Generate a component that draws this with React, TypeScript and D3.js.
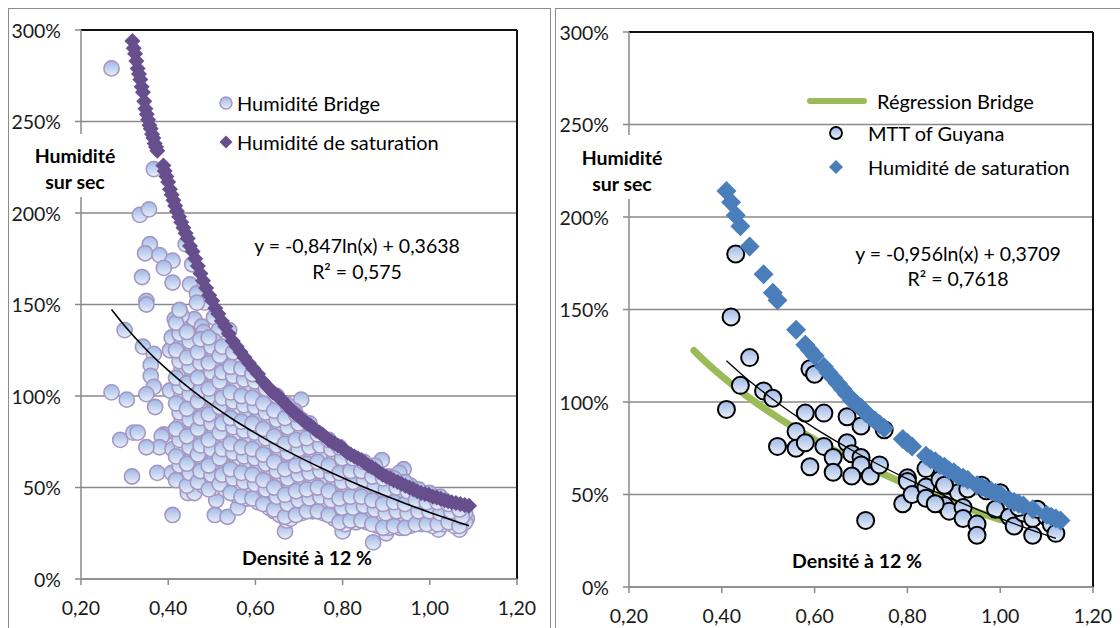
import React from "react";
import * as d3 from "d3";

// ---------- DATA ----------
const xTicks = [0.2, 0.4, 0.6, 0.8, 1.0, 1.2];
const yTicks = [0, 0.5, 1, 1.5, 2, 2.5, 3];

// Left panel : Humidité Bridge (density, humidity %)
const bridgeOutliers: [number, number][] = [
  [0.27, 279], [0.367, 224], [0.335, 199], [0.356, 202], [0.358, 183], [0.347, 178], [0.38, 177], [0.41, 174],
  [0.39, 170], [0.34, 165], [0.41, 162], [0.35, 152], [0.35, 150], [0.44, 183], [0.455, 172], [0.45, 161],
  [0.466, 156], [0.484, 151], [0.466, 151], [0.415, 142], [0.44, 139], [0.46, 142], [0.477, 138], [0.505, 143],
  [0.516, 136], [0.54, 136], [0.30, 136], [0.342, 127], [0.367, 123], [0.36, 117], [0.36, 111], [0.367, 105],
  [0.35, 101], [0.404, 103], [0.404, 125], [0.408, 132], [0.37, 94], [0.27, 102], [0.305, 98], [0.39, 79],
  [0.385, 78], [0.38, 72], [0.35, 72], [0.29, 76], [0.32, 80], [0.33, 80], [0.41, 71], [0.375, 58],
  [0.408, 58], [0.317, 56], [0.41, 35], [0.445, 47], [0.46, 47], [0.474, 56], [0.51, 43], [0.507, 35],
  [0.536, 34], [0.56, 39], [0.606, 54], [0.643, 37], [0.668, 26], [0.672, 32], [0.697, 39], [0.726, 43],
  [0.77, 45], [0.78, 38], [0.80, 26], [0.816, 31], [0.86, 38], [0.87, 20], [0.90, 25], [0.92, 30],
  [0.936, 28], [0.96, 34], [0.977, 35], [1.00, 32], [1.02, 27], [1.047, 33], [1.068, 27], [1.085, 33],
  [1.056, 40], [1.02, 37], [1.03, 40], [0.705, 98], [0.69, 92], [0.89, 65], [0.94, 60], [0.93, 58],
];
const bridgeBody: [number, number][] = [
  [0.418, 54], [0.426, 62], [0.418, 67], [0.426, 76], [0.418, 82], [0.426, 91], [0.418, 96], [0.426, 105], [0.418, 110], [0.426, 119], [0.418, 125], [0.426, 134], [0.418, 140], [0.426, 147],
  [0.443, 51], [0.449, 58], [0.443, 63], [0.449, 72], [0.443, 78], [0.449, 87], [0.443, 93], [0.449, 101], [0.443, 107], [0.449, 116], [0.443, 121], [0.449, 130], [0.443, 135],
  [0.468, 53], [0.474, 59], [0.468, 68], [0.474, 73], [0.468, 82], [0.474, 88], [0.468, 97], [0.474, 103], [0.468, 110], [0.474, 118], [0.468, 124], [0.474, 131],
  [0.493, 49], [0.499, 57], [0.493, 62], [0.499, 71], [0.493, 76], [0.499, 85], [0.493, 90], [0.499, 99], [0.493, 104], [0.499, 113], [0.493, 118], [0.499, 127], [0.493, 132],
  [0.518, 52], [0.524, 57], [0.518, 66], [0.524, 71], [0.518, 80], [0.524, 85], [0.518, 94], [0.524, 99], [0.518, 108], [0.524, 113], [0.518, 122], [0.524, 127],
  [0.543, 47], [0.549, 55], [0.543, 60], [0.549, 69], [0.543, 74], [0.549, 83], [0.543, 88], [0.549, 97], [0.543, 102], [0.549, 111], [0.543, 116], [0.549, 124],
  [0.568, 45], [0.574, 53], [0.568, 58], [0.574, 67], [0.568, 72], [0.574, 81], [0.568, 86], [0.574, 95], [0.568, 100], [0.574, 109], [0.568, 115],
  [0.593, 44], [0.599, 52], [0.593, 57], [0.599, 66], [0.593, 71], [0.599, 80], [0.593, 85], [0.599, 94], [0.593, 99], [0.599, 108], [0.593, 112],
  [0.618, 41], [0.624, 49], [0.618, 54], [0.624, 63], [0.618, 68], [0.624, 77], [0.618, 82], [0.624, 91], [0.618, 96], [0.624, 104],
  [0.643, 38], [0.649, 45], [0.643, 50], [0.649, 59], [0.643, 64], [0.649, 73], [0.643, 78], [0.649, 87], [0.643, 92], [0.649, 100],
  [0.668, 34], [0.674, 41], [0.668, 46], [0.674, 55], [0.668, 60], [0.674, 69], [0.668, 74], [0.674, 83], [0.668, 88], [0.674, 95],
  [0.693, 35], [0.699, 43], [0.693, 48], [0.699, 57], [0.693, 62], [0.699, 71], [0.693, 76], [0.699, 85], [0.693, 90],
  [0.718, 37], [0.724, 44], [0.718, 49], [0.724, 58], [0.718, 63], [0.724, 72], [0.718, 77], [0.724, 85],
  [0.743, 37], [0.749, 45], [0.743, 50], [0.749, 59], [0.743, 64], [0.749, 73], [0.743, 79],
  [0.768, 35], [0.774, 43], [0.768, 48], [0.774, 57], [0.768, 62], [0.774, 71], [0.768, 76],
  [0.793, 31], [0.799, 39], [0.793, 44], [0.799, 53], [0.793, 58], [0.799, 66], [0.793, 72],
  [0.818, 32], [0.824, 39], [0.818, 45], [0.824, 53], [0.818, 59], [0.824, 66],
  [0.843, 32], [0.849, 40], [0.843, 45], [0.849, 54], [0.843, 59], [0.849, 64],
  [0.868, 30], [0.874, 38], [0.868, 43], [0.874, 51], [0.868, 56], [0.874, 62],
  [0.893, 28], [0.899, 36], [0.893, 41], [0.899, 49], [0.893, 55],
  [0.918, 29], [0.924, 37], [0.918, 42], [0.924, 50], [0.918, 55],
  [0.943, 28], [0.949, 36], [0.943, 41], [0.949, 48], [0.943, 53],
  [0.968, 30], [0.974, 37], [0.968, 43], [0.974, 49],
  [0.993, 30], [0.999, 37], [0.993, 42], [0.999, 47],
  [1.018, 30], [1.024, 36], [1.018, 42], [1.024, 45],
  [1.043, 31], [1.049, 37], [1.043, 41],
  [1.068, 29], [1.074, 34], [1.068, 38],
];
const bridgeFill: [number, number][] = [
  [0.431, 57], [0.431, 65], [0.431, 72], [0.431, 80], [0.431, 87], [0.431, 94], [0.431, 101], [0.431, 108], [0.431, 115], [0.431, 122], [0.431, 129], [0.431, 137], [0.431, 144],
  [0.456, 54], [0.456, 61], [0.456, 68], [0.456, 76], [0.456, 83], [0.456, 90], [0.456, 97], [0.456, 104], [0.456, 112], [0.456, 119], [0.456, 126], [0.456, 133],
  [0.481, 51], [0.481, 56], [0.481, 64], [0.481, 71], [0.481, 78], [0.481, 85], [0.481, 93], [0.481, 100], [0.481, 107], [0.481, 114], [0.481, 121], [0.481, 128], [0.481, 135],
  [0.506, 50], [0.506, 54], [0.506, 61], [0.506, 68], [0.506, 75], [0.506, 82], [0.506, 89], [0.506, 96], [0.506, 102], [0.506, 110], [0.506, 117], [0.506, 124], [0.506, 130],
  [0.531, 49], [0.531, 56], [0.531, 63], [0.531, 70], [0.531, 77], [0.531, 84], [0.531, 91], [0.531, 98], [0.531, 105], [0.531, 112], [0.531, 119], [0.531, 125],
  [0.556, 46], [0.556, 52], [0.556, 59], [0.556, 66], [0.556, 73], [0.556, 80], [0.556, 87], [0.556, 94], [0.556, 101], [0.556, 108], [0.556, 115], [0.556, 121],
  [0.581, 44], [0.581, 51], [0.581, 55], [0.581, 62], [0.581, 69], [0.581, 76], [0.581, 83], [0.581, 90], [0.581, 97], [0.581, 104], [0.581, 111],
  [0.606, 42], [0.606, 47], [0.606, 61], [0.606, 68], [0.606, 75], [0.606, 82], [0.606, 89], [0.606, 96], [0.606, 103], [0.606, 108],
  [0.631, 39], [0.631, 45], [0.631, 52], [0.631, 59], [0.631, 66], [0.631, 73], [0.631, 80], [0.631, 87], [0.631, 94], [0.631, 101],
  [0.656, 35], [0.656, 42], [0.656, 48], [0.656, 56], [0.656, 62], [0.656, 70], [0.656, 76], [0.656, 84], [0.656, 90], [0.656, 96],
  [0.681, 33], [0.681, 39], [0.681, 45], [0.681, 52], [0.681, 58], [0.681, 66], [0.681, 72], [0.681, 80], [0.681, 86], [0.681, 92],
  [0.706, 36], [0.706, 40], [0.706, 47], [0.706, 53], [0.706, 60], [0.706, 67], [0.706, 74], [0.706, 81], [0.706, 87],
  [0.731, 37], [0.731, 41], [0.731, 47], [0.731, 54], [0.731, 61], [0.731, 68], [0.731, 75], [0.731, 81],
  [0.756, 36], [0.756, 41], [0.756, 47], [0.756, 54], [0.756, 61], [0.756, 68], [0.756, 75],
  [0.781, 33], [0.781, 40], [0.781, 46], [0.781, 52], [0.781, 59], [0.781, 66], [0.781, 72],
  [0.806, 30], [0.806, 36], [0.806, 42], [0.806, 49], [0.806, 56], [0.806, 62], [0.806, 68],
  [0.831, 31], [0.831, 36], [0.831, 42], [0.831, 49], [0.831, 56], [0.831, 62],
  [0.856, 31], [0.856, 36], [0.856, 42], [0.856, 48], [0.856, 55], [0.856, 60],
  [0.881, 29], [0.881, 34], [0.881, 40], [0.881, 46], [0.881, 52], [0.881, 58],
  [0.906, 28], [0.906, 33], [0.906, 39], [0.906, 45], [0.906, 51], [0.906, 56],
  [0.931, 28], [0.931, 33], [0.931, 39], [0.931, 45], [0.931, 51],
  [0.956, 29], [0.956, 35], [0.956, 40], [0.956, 46], [0.956, 51],
  [0.981, 30], [0.981, 35], [0.981, 41], [0.981, 46],
  [1.006, 29], [1.006, 35], [1.006, 40], [1.006, 45],
  [1.031, 30], [1.031, 35], [1.031, 40], [1.031, 43],
  [1.056, 29], [1.056, 35], [1.056, 39],
  [1.081, 31], [1.081, 36],
];

// Left panel : Humidité de saturation
const saturationLeft: [number, number][] = [
  [0.318, 294], [0.321, 290], [0.324, 287], [0.327, 283], [0.330, 279], [0.333, 276], [0.336, 273], [0.339, 269],
  [0.342, 266], [0.345, 261], [0.348, 257], [0.351, 254], [0.354, 251], [0.357, 248], [0.360, 246], [0.363, 243],
  [0.366, 241], [0.369, 238], [0.372, 236], [0.375, 234], [0.389, 226], [0.392, 223], [0.396, 220], [0.400, 217],
  [0.404, 213], [0.408, 210], [0.412, 207], [0.416, 204], [0.420, 201], [0.425, 198], [0.430, 195], [0.435, 192],
  [0.440, 189], [0.445, 186], [0.450, 182], [0.456, 179], [0.462, 175], [0.468, 171], [0.474, 167], [0.480, 163],
  [0.487, 159], [0.494, 155], [0.501, 152], [0.508, 148], [0.515, 145], [0.523, 141], [0.531, 138], [0.539, 134],
  [0.548, 130], [0.557, 127], [0.566, 124], [0.575, 121], [0.585, 118], [0.595, 115], [0.606, 112], [0.617, 108],
  [0.628, 105], [0.634, 103.5], [0.640, 102], [0.646, 101], [0.652, 100], [0.658, 98.5], [0.664, 97], [0.670, 95.5],
  [0.676, 94], [0.682, 92.5], [0.688, 91], [0.694, 90], [0.700, 89], [0.706, 87.5], [0.713, 86], [0.719, 85],
  [0.726, 84], [0.733, 82.5], [0.740, 81], [0.747, 80], [0.754, 79], [0.761, 77.5], [0.768, 76], [0.775, 75],
  [0.782, 74], [0.789, 73], [0.797, 72], [0.804, 70.5], [0.812, 69], [0.819, 68], [0.827, 67], [0.835, 66],
  [0.843, 65], [0.851, 63.5], [0.859, 62], [0.867, 61], [0.875, 60], [0.883, 58.5], [0.892, 57], [0.900, 56],
  [0.909, 55], [0.917, 54], [0.926, 53], [0.935, 52], [0.944, 51], [0.953, 50], [0.962, 49], [0.971, 48],
  [0.980, 47], [0.989, 46.5], [0.998, 46], [1.007, 45], [1.016, 44.5], [1.025, 43.8], [1.034, 43], [1.042, 42.5],
  [1.050, 42], [1.060, 41.5], [1.070, 41], [1.080, 40.5], [1.090, 40],
];

// Left trendline (logarithmic fit shown as equation)
const trendLeft: [number, number][] = [
  [0.27, 147.3], [0.30, 138.4], [0.35, 125.3], [0.40, 114.0], [0.45, 104.0], [0.50, 95.1], [0.55, 87.0],
  [0.60, 79.7], [0.65, 72.9], [0.70, 66.6], [0.75, 60.8], [0.80, 55.3], [0.85, 50.1], [0.90, 45.3],
  [0.95, 40.7], [1.00, 36.4], [1.05, 32.3], [1.09, 29.1],
];

// Right panel : Régression Bridge
const regressionBridge: [number, number][] = [
  [0.34, 127.8], [0.35, 125.3], [0.40, 114.0], [0.45, 104.0], [0.50, 95.1], [0.55, 87.0], [0.60, 79.7],
  [0.65, 72.9], [0.70, 66.6], [0.75, 60.8], [0.80, 55.3], [0.85, 50.1], [0.90, 45.3], [0.95, 40.7], [1.00, 36.4],
];

// Right panel : MTT of Guyana
const mttGuyana: [number, number][] = [
  [0.43, 180], [0.42, 146], [0.41, 96], [0.46, 124], [0.44, 109], [0.49, 106], [0.51, 102], [0.52, 76],
  [0.56, 84], [0.56, 75], [0.58, 94], [0.59, 118], [0.60, 115], [0.58, 78], [0.59, 65], [0.62, 94],
  [0.62, 76], [0.64, 70], [0.64, 62], [0.67, 92], [0.67, 78], [0.68, 72], [0.70, 87], [0.70, 70],
  [0.70, 66], [0.68, 60], [0.72, 60], [0.74, 66], [0.75, 85], [0.71, 36], [0.79, 45], [0.80, 59],
  [0.80, 57], [0.81, 50], [0.84, 64], [0.84, 54], [0.84, 48], [0.87, 58], [0.88, 44], [0.89, 41],
  [0.89, 55], [0.91, 51], [0.92, 43], [0.92, 37], [0.95, 34], [0.95, 28], [0.96, 55], [0.97, 52],
  [1.00, 51], [0.99, 42], [1.02, 38], [1.03, 33], [1.05, 40], [1.07, 37], [1.07, 28], [1.10, 38],
  [1.11, 34], [1.12, 29], [0.86, 45], [0.88, 55], [0.93, 53], [1.04, 43], [1.08, 42],
];

// Right panel : Humidité de saturation
const saturationRight: [number, number][] = [
  [0.41, 214], [0.42, 208], [0.43, 201], [0.44, 195], [0.46, 184], [0.49, 169], [0.51, 159], [0.52, 155],
  [0.56, 139], [0.58, 131], [0.59, 128], [0.60, 125], [0.62, 119], [0.63, 116], [0.64, 113], [0.65, 110],
  [0.66, 107], [0.67, 104], [0.68, 101], [0.69, 99], [0.70, 97], [0.71, 94], [0.72, 92], [0.73, 90],
  [0.74, 88], [0.75, 86], [0.79, 80], [0.80, 78], [0.81, 76], [0.84, 71], [0.85, 69], [0.86, 68],
  [0.87, 66], [0.88, 65], [0.89, 63], [0.90, 62], [0.91, 60], [0.92, 59], [0.93, 58], [0.95, 55],
  [0.96, 54], [0.97, 53], [0.98, 52], [0.99, 51], [1.00, 50], [1.02, 47], [1.03, 46], [1.04, 45],
  [1.05, 44], [1.07, 42], [1.10, 39], [1.11, 38], [1.12, 37], [1.13, 36],
];

// Right trendline
const trendRight: [number, number][] = [
  [0.41, 122.3], [0.45, 113.4], [0.50, 103.4], [0.55, 94.2], [0.60, 85.9], [0.65, 78.3], [0.70, 71.2],
  [0.75, 64.6], [0.80, 58.4], [0.85, 52.6], [0.90, 47.2], [0.95, 42.0], [1.00, 37.1], [1.05, 32.4], [1.12, 26.3],
];

const legendLeft = ["Humidité Bridge", "Humidité de saturation"];
const legendRight = ["Régression Bridge", "MTT of Guyana", "Humidité de saturation"];
const eqLeft = ["y = -0,847ln(x) + 0,3638", "R² = 0,575"];
const eqRight = ["y = -0,956ln(x) + 0,3709", "R² = 0,7618"];
const yTitle = ["Humidité", "sur sec"];
const xTitle = "Densité à 12 %";

// ---------- STYLE ----------
const FONT = "Lato, 'Open Sans', sans-serif";
const GRID = "#8a8a8a";
const PURPLE = "#674f8d";
const BLUE = "#4a7ebb";
const GREEN = "#9bbb59";
const TICK_FS = 19.5;
const LEG_FS = 20;
const EQ_FS = 19.5;
const TITLE_FS = 19.5;

const fmtX = (v: number) => v.toFixed(2).replace(".", ",");
const fmtY = (v: number) => `${Math.round(v * 100)}%`;

type Box = { x0: number; x1: number; y0: number; y1: number };

function Axes({ b, sx, sy }: { b: Box; sx: d3.ScaleLinear<number, number>; sy: d3.ScaleLinear<number, number> }) {
  return (
    <g>
      {yTicks.map((t) => (
        <line key={"g" + t} x1={b.x0} x2={b.x1} y1={sy(t)} y2={sy(t)} stroke={GRID} strokeWidth={1.5} />
      ))}
      <line x1={b.x0} x2={b.x1} y1={b.y1} y2={b.y1} stroke="#111" strokeWidth={2} />
      <line x1={b.x1} x2={b.x1} y1={b.y1} y2={b.y0} stroke="#111" strokeWidth={2} />
      <line x1={b.x0} x2={b.x0} y1={b.y1} y2={b.y0} stroke={GRID} strokeWidth={1.5} />
      <line x1={b.x0} x2={b.x1} y1={b.y0} y2={b.y0} stroke={GRID} strokeWidth={1.5} />
      {yTicks.map((t) => (
        <g key={"y" + t}>
          <line x1={b.x0 - 6} x2={b.x0} y1={sy(t)} y2={sy(t)} stroke={GRID} strokeWidth={1.5} />
          <text x={b.x0 - 20} y={sy(t)} textAnchor="end" dominantBaseline="central" fontSize={TICK_FS} fill="#1a1a1a">
            {fmtY(t)}
          </text>
        </g>
      ))}
      {xTicks.map((t) => (
        <g key={"x" + t}>
          <line x1={sx(t)} x2={sx(t)} y1={b.y0} y2={b.y0 + 6} stroke={GRID} strokeWidth={1.5} />
          <text x={sx(t)} y={b.y0 + 28} textAnchor="middle" dominantBaseline="central" fontSize={TICK_FS} fill="#1a1a1a">
            {fmtX(t)}
          </text>
        </g>
      ))}
    </g>
  );
}

function diamond(cx: number, cy: number, r: number) {
  return `M${cx},${cy - r}L${cx + r},${cy}L${cx},${cy + r}L${cx - r},${cy}Z`;
}

export default function App() {
  const L: Box = { x0: 81, x1: 517, y0: 579, y1: 30 };
  const R: Box = { x0: 629, x1: 1093, y0: 587, y1: 32 };
  const lx = d3.scaleLinear().domain([0.2, 1.2]).range([L.x0, L.x1]);
  const ly = d3.scaleLinear().domain([0, 3]).range([L.y0, L.y1]);
  const rx = d3.scaleLinear().domain([0.2, 1.2]).range([R.x0, R.x1]);
  const ry = d3.scaleLinear().domain([0, 3]).range([R.y0, R.y1]);

  const lineL = d3.line<[number, number]>().x((d) => lx(d[0])).y((d) => ly(d[1] / 100)).curve(d3.curveMonotoneX);
  const lineR = d3.line<[number, number]>().x((d) => rx(d[0])).y((d) => ry(d[1] / 100)).curve(d3.curveMonotoneX);

  const bridge = [...bridgeOutliers, ...bridgeFill, ...bridgeBody];

  return (
    <svg width={1120} height={628} style={{ position: "absolute", left: 0, top: 0, fontFamily: FONT }}>
      <defs>
        <linearGradient id="bubble" x1="0" y1="0" x2="0" y2="1">
          <stop offset="0" stopColor="#9fb8e6" />
          <stop offset="1" stopColor="#e8eff9" />
        </linearGradient>
      </defs>
      <rect x={0} y={0} width={1120} height={628} fill="#fff" />
      {/* panel frames */}
      <rect x={8.5} y={8.5} width={542} height={640} fill="none" stroke="#8c8c8c" strokeWidth={1} />
      <rect x={555.5} y={8.5} width={600} height={640} fill="none" stroke="#8c8c8c" strokeWidth={1} />

      {/* ---------- LEFT ---------- */}
      <Axes b={L} sx={lx} sy={ly} />
      <rect x={28} y={134} width={94} height={63} fill="#fff" />
      <text x={75} y={155} textAnchor="middle" dominantBaseline="central" fontSize={TITLE_FS} fontWeight="bold">{yTitle[0]}</text>
      <text x={75} y={181} textAnchor="middle" dominantBaseline="central" fontSize={TITLE_FS} fontWeight="bold">{yTitle[1]}</text>
      <g>
        {bridge.map((d, i) => (
          <circle key={i} cx={lx(d[0])} cy={ly(d[1] / 100)} r={7.6} fill="url(#bubble)" stroke="#a597c2" strokeWidth={1.6} />
        ))}
      </g>
      <g>
        {saturationLeft.map((d, i) => (
          <path key={i} d={diamond(lx(d[0]), ly(d[1] / 100), 8)} fill={PURPLE} />
        ))}
      </g>
      <path d={lineL(trendLeft) || ""} fill="none" stroke="#000" strokeWidth={1.6} />
      <text x={307} y={557} textAnchor="middle" dominantBaseline="central" fontSize={TITLE_FS} fontWeight="bold">{xTitle}</text>
      {/* legend */}
      <circle cx={226} cy={103} r={6} fill="url(#bubble)" stroke="#a597c2" strokeWidth={1.5} />
      <text x={237} y={103} dominantBaseline="central" fontSize={LEG_FS}>{legendLeft[0]}</text>
      <path d={diamond(226, 142, 6.5)} fill={PURPLE} />
      <text x={237} y={142} dominantBaseline="central" fontSize={LEG_FS}>{legendLeft[1]}</text>
      <text x={357} y={245} textAnchor="middle" dominantBaseline="central" fontSize={EQ_FS}>{eqLeft[0]}</text>
      <text x={357} y={271} textAnchor="middle" dominantBaseline="central" fontSize={EQ_FS}>{eqLeft[1]}</text>

      {/* ---------- RIGHT ---------- */}
      <Axes b={R} sx={rx} sy={ry} />
      <rect x={576} y={135} width={94} height={64} fill="#fff" />
      <text x={622} y={157} textAnchor="middle" dominantBaseline="central" fontSize={TITLE_FS} fontWeight="bold">{yTitle[0]}</text>
      <text x={622} y={183} textAnchor="middle" dominantBaseline="central" fontSize={TITLE_FS} fontWeight="bold">{yTitle[1]}</text>
      <path d={lineR(regressionBridge) || ""} fill="none" stroke={GREEN} strokeWidth={7} strokeLinecap="round" />
      <g>
        {mttGuyana.map((d, i) => (
          <circle key={i} cx={rx(d[0])} cy={ry(d[1] / 100)} r={8.5} fill="url(#bubble)" stroke="#000" strokeWidth={2} />
        ))}
      </g>
      <g>
        {saturationRight.map((d, i) => (
          <path key={i} d={diamond(rx(d[0]), ry(d[1] / 100), 10)} fill={BLUE} />
        ))}
      </g>
      <path d={lineR(trendRight) || ""} fill="none" stroke="#000" strokeWidth={1.3} />
      <text x={857} y={560} textAnchor="middle" dominantBaseline="central" fontSize={TITLE_FS} fontWeight="bold">{xTitle}</text>
      {/* legend */}
      <line x1={810} x2={864} y1={101} y2={101} stroke={GREEN} strokeWidth={6} strokeLinecap="round" />
      <text x={877} y={101} dominantBaseline="central" fontSize={LEG_FS}>{legendRight[0]}</text>
      <circle cx={836} cy={133} r={6} fill="url(#bubble)" stroke="#000" strokeWidth={1.8} />
      <text x={868} y={133} dominantBaseline="central" fontSize={LEG_FS}>{legendRight[1]}</text>
      <path d={diamond(836, 167, 7)} fill={BLUE} />
      <text x={868} y={167} dominantBaseline="central" fontSize={LEG_FS}>{legendRight[2]}</text>
      <text x={958} y={253} textAnchor="middle" dominantBaseline="central" fontSize={EQ_FS}>{eqRight[0]}</text>
      <text x={958} y={278} textAnchor="middle" dominantBaseline="central" fontSize={EQ_FS}>{eqRight[1]}</text>
    </svg>
  );
}
